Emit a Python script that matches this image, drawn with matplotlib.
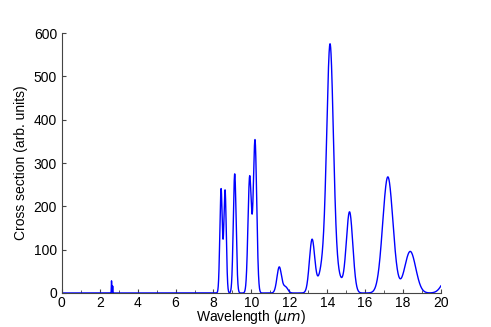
import matplotlib
matplotlib.use("Agg")
import matplotlib.pyplot as plt
import numpy as np

plt.rcParams['font.family'] = ['Liberation Sans', 'DejaVu Sans']

# peaks: centre (um), height (arb. units), width (um)
centres = [2.62, 2.68, 8.40, 8.61, 9.12, 9.91, 10.19, 11.47, 11.80,
           13.20, 13.72, 14.15, 14.15, 15.18, 17.20, 18.38, 20.40]
heights = [28, 16, 240, 237, 275, 268, 352, 60, 14,
           120, 15, 480, 95, 185, 268, 96, 40]
widths = [0.010, 0.010, 0.064, 0.064, 0.075, 0.09, 0.09, 0.12, 0.12,
          0.14, 0.15, 0.17, 0.38, 0.17, 0.27, 0.29, 0.30]

wl = np.linspace(0, 20, 20001)
sigma = np.zeros_like(wl)
for c, h, w in zip(centres, heights, widths):
    sigma += h * np.exp(-0.5 * ((wl - c) / w) ** 2)

fig = plt.figure(figsize=(4.91, 3.27), dpi=100)
ax = fig.add_axes([0.126, 0.104, 0.772, 0.795])
ax.plot(wl, sigma, color='#0000ff', lw=1.0)

ax.set_xlim(0, 20)
ax.set_ylim(0, 600)
ax.set_xticks(np.arange(0, 21, 2))
ax.set_xticks(np.arange(1, 20, 2), minor=True)
ax.set_yticks(np.arange(0, 601, 100))
ax.tick_params(direction='in', labelsize=10, length=3, color='#444444')
ax.tick_params(axis='x', pad=2)
ax.tick_params(which='minor', direction='in', length=2, color='#444444')
for s in ['top', 'right']:
    ax.spines[s].set_visible(False)
for s in ['left', 'bottom']:
    ax.spines[s].set_color('#444444')

ax.set_xlabel(r'Wavelength ($\mu m$)', fontsize=10, labelpad=-1)
ax.set_ylabel('Cross section (arb. units)', fontsize=10, labelpad=4)

fig.savefig('out.png', dpi=100)
